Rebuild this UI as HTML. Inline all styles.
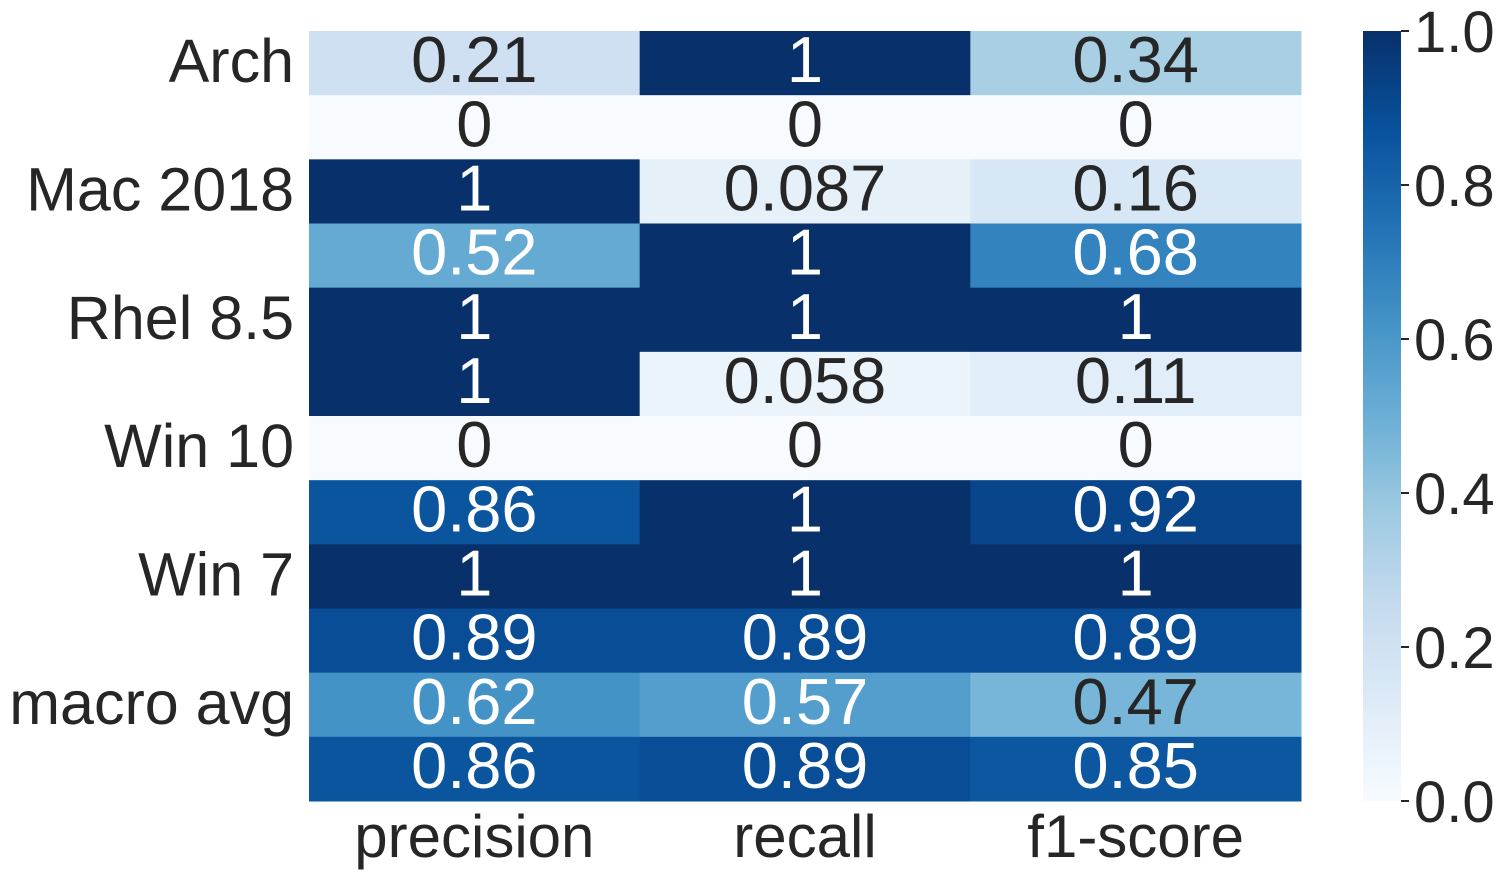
<!DOCTYPE html>
<html><head><meta charset="utf-8"><style>
html,body{margin:0;padding:0;background:#fff;}
svg text{font-family:"Liberation Sans","DejaVu Sans",sans-serif;}
</style></head><body>
<svg id="chart" width="1509" height="879" xmlns="http://www.w3.org/2000/svg"></svg>
<script>
const rowLabels = ["Arch","","Mac 2018","","Rhel 8.5","","Win 10","","Win 7","","macro avg",""];
const colLabels = ["precision","recall","f1-score"];
const precision = [0.21,0,1,0.52,1,1,0,0.86,1,0.89,0.62,0.86];
const recall = [1,0,0.087,1,1,0.058,0,1,1,0.89,0.57,0.89];
const f1 = [0.34,0,0.16,0.68,1,0.11,0,0.92,1,0.89,0.47,0.85];
const precisionText = ["0.21","0","1","0.52","1","1","0","0.86","1","0.89","0.62","0.86"];
const recallText = ["1","0","0.087","1","1","0.058","0","1","1","0.89","0.57","0.89"];
const f1Text = ["0.34","0","0.16","0.68","1","0.11","0","0.92","1","0.89","0.47","0.85"];
const cbTicks = [0,0.2,0.4,0.6,0.8,1.0];
const cbTickText = ["0.0","0.2","0.4","0.6","0.8","1.0"];

const NS="http://www.w3.org/2000/svg";
const svg=document.getElementById('chart');
const X0=309,X1=1301,Y0=31,Y1=801;
const cw=(X1-X0)/colLabels.length, rh=(Y1-Y0)/rowLabels.length;
const stops=["#f7fbff","#deebf7","#c6dbef","#9ecae1","#6baed6","#4292c6","#2171b5","#08519c","#08306b"];
function hex(h){return [1,3,5].map(i=>parseInt(h.substr(i,2),16));}
function blues(v){v=Math.max(0,Math.min(1,v));const p=v*8,i=Math.min(7,Math.floor(p)),t=p-i;
 const a=hex(stops[i]),b=hex(stops[i+1]);return a.map((c,k)=>Math.round(c+(b[k]-c)*t));}
function el(tag,attrs,txt){const e=document.createElementNS(NS,tag);for(const k in attrs)e.setAttribute(k,attrs[k]);if(txt!==undefined)e.textContent=txt;svg.appendChild(e);return e;}
const xPos=j=>X0+j*cw, yPos=i=>Y0+i*rh;
const cols=[precision,recall,f1], texts=[precisionText,recallText,f1Text];
for(let j=0;j<3;j++){for(let i=0;i<rowLabels.length;i++){
 const v=cols[j][i], c=blues(v);
 const r=el('rect',{x:xPos(j),y:yPos(i),width:cw+0.5,height:rh+0.5,fill:`rgb(${c})`});
 
 
 const t=el('text',{x:xPos(j)+cw/2,y:yPos(i)+rh/2+19,'text-anchor':'middle','font-size':65,fill:v>0.5?'#ffffff':'#262626'},texts[j][i]);
 
 
}}
rowLabels.forEach((l,i)=>{if(!l)return;
 const t=el('text',{x:294,y:yPos(i)+rh/2+19,'text-anchor':'end','font-size':61,fill:'#262626'},l);
 
 
});
colLabels.forEach((l,j)=>{
 const t=el('text',{x:xPos(j)+cw/2,y:857,'text-anchor':'middle','font-size':60,fill:'#262626'},l);
 
 
});
const CX=1363,CW=38;
const defs=el('defs',{});
const g=document.createElementNS(NS,'linearGradient');g.setAttribute('id','cbg');g.setAttribute('x1','0');g.setAttribute('y1','1');g.setAttribute('x2','0');g.setAttribute('y2','0');
stops.forEach((s,k)=>{const st=document.createElementNS(NS,'stop');st.setAttribute('offset',k/8);st.setAttribute('stop-color',s);g.appendChild(st);});
defs.appendChild(g);
const cb=el('rect',{x:CX,y:Y0,width:CW,height:Y1-Y0,fill:'url(#cbg)'});


const cy=v=>Y1-v*(Y1-Y0);
cbTicks.forEach((v,k)=>{
 el('line',{x1:CX+CW,x2:CX+CW+8,y1:cy(v),y2:cy(v),stroke:'#262626','stroke-width':2});
 const t=el('text',{x:1414,y:cy(v)+21,'font-size':58,fill:'#262626'},cbTickText[k]);
 
 
});
</script>
</body></html>
